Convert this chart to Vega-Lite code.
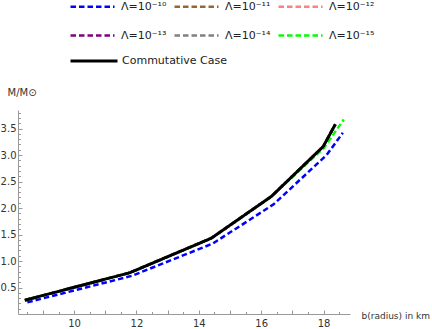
{
  "$schema": "https://vega.github.io/schema/vega-lite/v6.json",
  "width": 332,
  "height": 204,
  "autosize": "none",
  "padding": {"left": 18, "top": 110, "right": 82, "bottom": 15},
  "background": "white",
  "config": {
    "view": {"stroke": null},
    "font": "DejaVu Sans"
  },
  "data": {
    "values": [
      {"series": "Λ=10⁻¹⁰", "b": 8.5, "m": 0.22},
      {"series": "Λ=10⁻¹⁰", "b": 11.85, "m": 0.72},
      {"series": "Λ=10⁻¹⁰", "b": 14.45, "m": 1.33},
      {"series": "Λ=10⁻¹⁰", "b": 16.4, "m": 2.07},
      {"series": "Λ=10⁻¹⁰", "b": 18.1, "m": 3.0},
      {"series": "Λ=10⁻¹⁰", "b": 18.62, "m": 3.42},
      {"series": "Λ=10⁻¹¹", "b": 8.42, "m": 0.26},
      {"series": "Λ=10⁻¹¹", "b": 11.79, "m": 0.78},
      {"series": "Λ=10⁻¹¹", "b": 14.4, "m": 1.43},
      {"series": "Λ=10⁻¹¹", "b": 16.33, "m": 2.22},
      {"series": "Λ=10⁻¹¹", "b": 17.99, "m": 3.16},
      {"series": "Λ=10⁻¹¹", "b": 18.38, "m": 3.58},
      {"series": "Λ=10⁻¹²", "b": 8.42, "m": 0.26},
      {"series": "Λ=10⁻¹²", "b": 11.79, "m": 0.78},
      {"series": "Λ=10⁻¹²", "b": 14.4, "m": 1.43},
      {"series": "Λ=10⁻¹²", "b": 16.33, "m": 2.22},
      {"series": "Λ=10⁻¹²", "b": 17.99, "m": 3.16},
      {"series": "Λ=10⁻¹²", "b": 18.38, "m": 3.58},
      {"series": "Λ=10⁻¹³", "b": 8.42, "m": 0.26},
      {"series": "Λ=10⁻¹³", "b": 11.79, "m": 0.78},
      {"series": "Λ=10⁻¹³", "b": 14.4, "m": 1.43},
      {"series": "Λ=10⁻¹³", "b": 16.33, "m": 2.22},
      {"series": "Λ=10⁻¹³", "b": 17.99, "m": 3.16},
      {"series": "Λ=10⁻¹³", "b": 18.38, "m": 3.58},
      {"series": "Λ=10⁻¹⁴", "b": 8.42, "m": 0.26},
      {"series": "Λ=10⁻¹⁴", "b": 11.79, "m": 0.78},
      {"series": "Λ=10⁻¹⁴", "b": 14.4, "m": 1.43},
      {"series": "Λ=10⁻¹⁴", "b": 16.33, "m": 2.22},
      {"series": "Λ=10⁻¹⁴", "b": 17.99, "m": 3.16},
      {"series": "Λ=10⁻¹⁴", "b": 18.38, "m": 3.58},
      {"series": "Λ=10⁻¹⁵", "b": 8.42, "m": 0.26},
      {"series": "Λ=10⁻¹⁵", "b": 11.79, "m": 0.78},
      {"series": "Λ=10⁻¹⁵", "b": 14.4, "m": 1.43},
      {"series": "Λ=10⁻¹⁵", "b": 16.33, "m": 2.22},
      {"series": "Λ=10⁻¹⁵", "b": 18.02, "m": 3.14},
      {"series": "Λ=10⁻¹⁵", "b": 18.65, "m": 3.67},
      {"series": "Commutative Case", "b": 8.42, "m": 0.26},
      {"series": "Commutative Case", "b": 11.79, "m": 0.78},
      {"series": "Commutative Case", "b": 14.4, "m": 1.43},
      {"series": "Commutative Case", "b": 16.33, "m": 2.22},
      {"series": "Commutative Case", "b": 17.99, "m": 3.16},
      {"series": "Commutative Case", "b": 18.38, "m": 3.58}
    ]
  },
  "encoding": {
    "x": {
      "field": "b", "type": "quantitative",
      "scale": {"domain": [8.2, 18.85], "nice": false, "zero": false},
      "axis": {
        "title": "b(radius) in km",
        "titleAngle": 0, "titleAlign": "left", "titleBaseline": "middle",
        "titleX": 343, "titleY": 1,
        "titleFontSize": 9, "titleFontWeight": "normal", "titleColor": "#333",
        "values": [8.5, 9, 9.5, 10, 10.5, 11, 11.5, 12, 12.5, 13, 13.5, 14, 14.5, 15, 15.5, 16, 16.5, 17, 17.5, 18, 18.5],
        "format": ".0f",
        "labelExpr": "datum.value % 2 == 0 ? datum.label : ''",
        "labelFontSize": 10, "labelColor": "#333", "labelPadding": 8,
        "labelFlush": false,
        "grid": false,
        "domainColor": "#999", "tickColor": "#999",
        "tickSize": {"condition": {"test": "datum.value % 1 == 0", "value": -4}, "value": -2.5}
      }
    },
    "y": {
      "field": "m", "type": "quantitative",
      "scale": {"domain": [0, 3.85], "nice": false},
      "axis": {
        "title": "M/M⊙",
        "titleAngle": 0, "titleAlign": "left", "titleBaseline": "bottom",
        "titleX": -11, "titleY": -13,
        "titleFontSize": 10, "titleFontWeight": "normal", "titleColor": "#333",
        "values": [0.1, 0.2, 0.3, 0.4, 0.5, 0.6, 0.7, 0.8, 0.9, 1.0, 1.1, 1.2, 1.3, 1.4, 1.5, 1.6, 1.7, 1.8, 1.9, 2.0, 2.1, 2.2, 2.3, 2.4, 2.5, 2.6, 2.7, 2.8, 2.9, 3.0, 3.1, 3.2, 3.3, 3.4, 3.5, 3.6, 3.7, 3.8],
        "format": ".1f",
        "labelExpr": "abs(datum.value * 2 - round(datum.value * 2)) < 0.001 ? datum.label : ''",
        "labelFontSize": 10, "labelColor": "#333", "labelPadding": 6,
        "labelFlush": false,
        "grid": false,
        "domainColor": "#999", "tickColor": "#999",
        "tickSize": {"condition": {"test": "abs(datum.value * 2 - round(datum.value * 2)) < 0.001", "value": -4}, "value": -2.5}
      }
    }
  },
  "layer": [
    {
      "transform": [{"filter": "datum.series != 'Commutative Case'"}],
      "mark": {"type": "line", "strokeWidth": 2.5, "strokeDash": [5.5, 3]},
      "encoding": {
        "color": {
          "field": "series", "type": "nominal",
          "scale": {
            "domain": ["Λ=10⁻¹⁰", "Λ=10⁻¹¹", "Λ=10⁻¹²", "Λ=10⁻¹³", "Λ=10⁻¹⁴", "Λ=10⁻¹⁵"],
            "range": ["#0000ff", "#996633", "#ff8080", "#800080", "#808080", "#00ff00"]
          },
          "legend": {
            "title": null,
            "orient": "none", "legendX": 51, "legendY": -127, "direction": "horizontal",
            "columns": 3, "gridAlign": "each", "columnPadding": 2, "rowPadding": -17,
            "symbolType": "stroke", "symbolSize": 1936, "symbolStrokeWidth": 2.5,
            "symbolDash": [5.5, 3],
            "labelFontSize": 11, "labelColor": "#222", "labelOffset": 5,
            "labelLimit": 200, "padding": 0
          }
        }
      }
    },
    {
      "transform": [{"filter": "datum.series == 'Commutative Case'"}],
      "mark": {"type": "line", "strokeWidth": 3, "color": "black"},
      "encoding": {
        "strokeDash": {
          "field": "series", "type": "nominal",
          "scale": {"domain": ["Commutative Case"], "range": [[1, 0]]},
          "legend": {
            "title": null,
            "orient": "none", "legendX": 51, "legendY": -74,
            "symbolType": "stroke", "symbolSize": 2209, "symbolStrokeWidth": 3,
            "symbolStrokeColor": "black",
            "labelFontSize": 11, "labelColor": "#222", "labelOffset": 3,
            "labelLimit": 200, "padding": 0
          }
        }
      }
    }
  ]
}
